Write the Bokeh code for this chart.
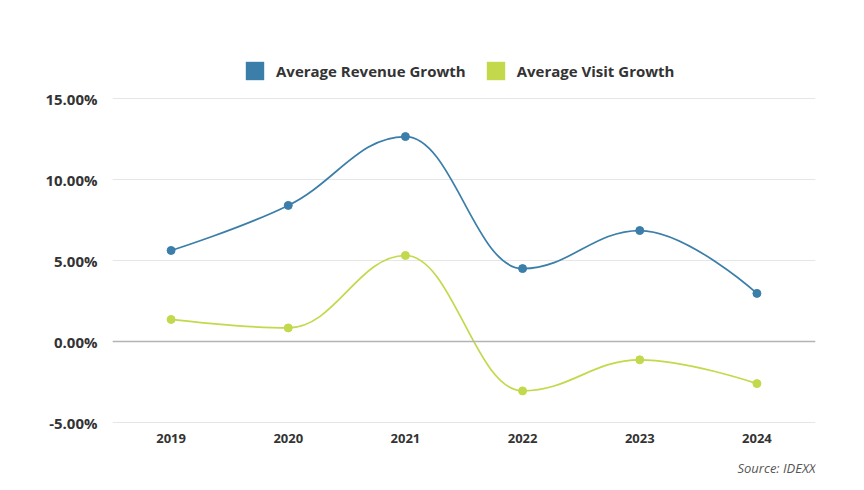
import numpy as np
from bokeh.plotting import figure
from bokeh.models import (Range1d, FixedTicker, PrintfTickFormatter, Span, Legend,
                          LegendItem, Label)
from bokeh.core.properties import value
from bokeh.embed import file_html
from bokeh.resources import INLINE

years = [2019, 2020, 2021, 2022, 2023, 2024]
year_labels = ["2019", "2020", "2021", "2022", "2023", "2024"]
revenue_growth = [5.62, 8.4, 12.65, 4.5, 6.85, 2.97]
visit_growth = [1.36, 0.84, 5.31, -3.05, -1.13, -2.6]
y_ticks = [-5, 0, 5, 10, 15]

BLUE = "#3a7ea9"
GREEN = "#c3d94b"
FONT = "Open Sans"

# layout (pixels)
W, H = 856, 482
LEFT, RIGHT = 112, 41
Y_TOP_PX, Y_BOT_PX = 98, 422          # pixel rows of 15% and -5% lines
ppu = (Y_BOT_PX - Y_TOP_PX) / (max(y_ticks) - min(y_ticks))
y_hi = max(y_ticks) + Y_TOP_PX / ppu
y_lo = min(y_ticks) - (H - Y_BOT_PX) / ppu


def spline_segments(xs, ys, smoothing=1.5):
    """Highcharts-style spline: cubic bezier control points from the data."""
    n = len(xs)
    denom = smoothing + 1
    left = [None] * n
    right = [None] * n
    for i in range(n):
        if 0 < i < n - 1:
            px, py = xs[i], ys[i]
            lx, ly = xs[i - 1], ys[i - 1]
            nx, ny = xs[i + 1], ys[i + 1]
            lcx = (smoothing * px + lx) / denom
            lcy = (smoothing * py + ly) / denom
            rcx = (smoothing * px + nx) / denom
            rcy = (smoothing * py + ny) / denom
            corr = 0
            if rcx != lcx:
                corr = (rcy - lcy) * (rcx - px) / (rcx - lcx) + py - rcy
            lcy += corr
            rcy += corr
            if lcy > ly and lcy > py:
                lcy = max(ly, py); rcy = 2 * py - lcy
            elif lcy < ly and lcy < py:
                lcy = min(ly, py); rcy = 2 * py - lcy
            if rcy > ny and rcy > py:
                rcy = max(ny, py); lcy = 2 * py - rcy
            elif rcy < ny and rcy < py:
                rcy = min(ny, py); lcy = 2 * py - rcy
            left[i] = (lcx, lcy)
            right[i] = (rcx, rcy)
        else:
            left[i] = (xs[i], ys[i])
            right[i] = (xs[i], ys[i])
    seg = dict(x0=[], y0=[], x1=[], y1=[], cx0=[], cy0=[], cx1=[], cy1=[])
    for i in range(1, n):
        seg["x0"].append(xs[i - 1]); seg["y0"].append(ys[i - 1])
        seg["x1"].append(xs[i]); seg["y1"].append(ys[i])
        seg["cx0"].append(right[i - 1][0]); seg["cy0"].append(right[i - 1][1])
        seg["cx1"].append(left[i][0]); seg["cy1"].append(left[i][1])
    return seg


p = figure(width=W, height=H, output_backend="svg", toolbar_location=None,
           x_range=Range1d(2018.5, 2024.5), y_range=Range1d(y_lo, y_hi),
           x_axis_location=None,
           min_border_left=LEFT, min_border_right=RIGHT, min_border_top=0,
           min_border_bottom=0)
p.outline_line_color = None
p.background_fill_color = "white"
p.border_fill_color = "white"

# y axis
p.yaxis.ticker = FixedTicker(ticks=y_ticks)
p.yaxis.formatter = PrintfTickFormatter(format="%.2f%%")
p.yaxis.axis_line_color = None
p.yaxis.major_tick_line_color = None
p.yaxis.minor_tick_line_color = None
p.yaxis.major_label_text_font = FONT
p.yaxis.major_label_text_font_style = "bold"
p.yaxis.major_label_text_color = "#333333"
p.yaxis.major_label_text_font_size = "15px"
p.yaxis.major_label_standoff = 9

p.xgrid.grid_line_color = None
p.ygrid.ticker = FixedTicker(ticks=y_ticks)
p.ygrid.grid_line_color = "#e6e6e6"
p.ygrid.grid_line_width = 1

p.add_layout(Span(location=0, dimension="width", line_color="#b3b3b3", line_width=1.5))

# x category labels below the -5% line
p.text(x=years, y=[min(y_ticks)] * len(years), text=year_labels, y_offset=16,
       text_align="center", text_baseline="middle", text_font=value(FONT),
       text_font_style="bold", text_font_size="13px", text_color="#333333")

# series
for ys, col in ((revenue_growth, BLUE), (visit_growth, GREEN)):
    seg = spline_segments(years, ys)
    p.bezier(x0="x0", y0="y0", x1="x1", y1="y1", cx0="cx0", cy0="cy0",
             cx1="cx1", cy1="cy1", source=seg, line_color=col, line_width=1.7)
    p.scatter(years, ys, size=8, color=col)

# legend (swatch renderers hold no drawable data)
nan = np.array([np.nan])
r_rev = p.quad(left=nan, right=nan, top=nan, bottom=nan, fill_color=BLUE, line_color=None)
r_vis = p.quad(left=nan, right=nan, top=nan, bottom=nan, fill_color=GREEN, line_color=None)
legend = Legend(items=[LegendItem(label="Average Revenue Growth", renderers=[r_rev]),
                       LegendItem(label="Average Visit Growth", renderers=[r_vis])],
                orientation="horizontal", location=(131, H - 82),
                glyph_width=23, glyph_height=23, label_height=23,
                label_standoff=10, spacing=18, padding=0, margin=0,
                background_fill_alpha=0, border_line_color=None,
                label_text_font=FONT, label_text_font_style="bold",
                label_text_font_size="15px", label_text_color="#333333")
p.add_layout(legend, "center")

p.add_layout(Label(x=W - LEFT - RIGHT, y=H - 467, x_units="screen", y_units="screen",
                   text="Source: IDEXX", text_font=FONT, text_font_style="italic",
                   text_font_size="13px", text_color="#555555",
                   text_align="right", text_baseline="middle"))

open("out.html", "w").write(file_html(p, INLINE))
